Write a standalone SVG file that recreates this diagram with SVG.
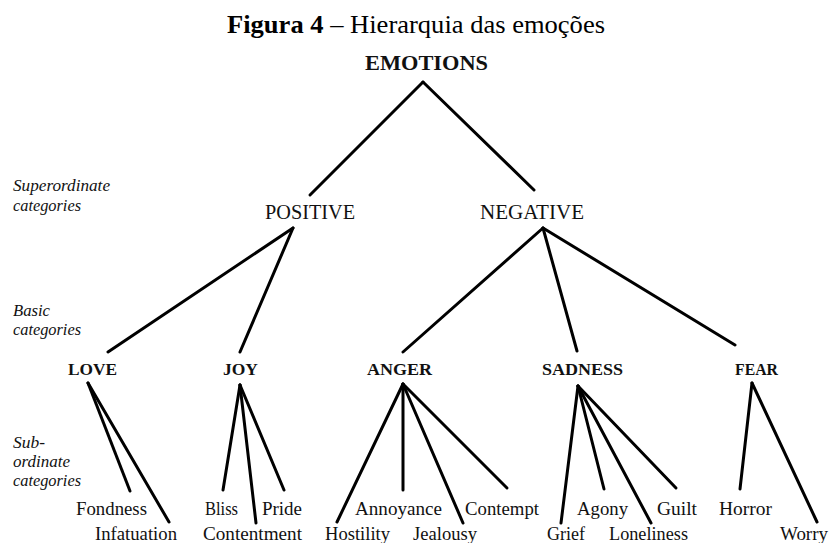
<svg xmlns="http://www.w3.org/2000/svg" width="832" height="543" viewBox="0 0 832 543">
<style>
  .bg { fill: #ffffff; }
  .title { font-family: "Liberation Serif", "Times New Roman", serif; font-size: 26px; fill: #000; }
  .title .b { font-weight: bold; }
  .top { font-family: "Liberation Serif", serif; font-size: 22px; font-weight: bold; fill: #111; }
  .sup { font-family: "Liberation Serif", serif; font-size: 20px; fill: #111; }
  .basic { font-family: "Liberation Serif", serif; font-size: 16px; font-weight: bold; fill: #111; }
  .sub { font-family: "Liberation Serif", serif; font-size: 18px; fill: #111; }
  .lvl { font-family: "Liberation Serif", serif; font-size: 16px; font-style: italic; fill: #111; }
  .edge { stroke: #000; stroke-width: 3; stroke-linecap: round; fill: none; }
</style>
<rect class="bg" x="0" y="0" width="832" height="543"/>

<text id="title" class="title" x="227" y="33" textLength="378" lengthAdjust="spacingAndGlyphs"><tspan class="b">Figura 4</tspan> – Hierarquia das emoções</text>

<g id="levels">
  <text class="lvl" x="13" y="191" textLength="97" lengthAdjust="spacingAndGlyphs">Superordinate</text>
  <text class="lvl" x="13" y="211" textLength="68" lengthAdjust="spacingAndGlyphs">categories</text>
  <text class="lvl" x="13" y="316" textLength="37" lengthAdjust="spacingAndGlyphs">Basic</text>
  <text class="lvl" x="13" y="335" textLength="68" lengthAdjust="spacingAndGlyphs">categories</text>
  <text class="lvl" x="13" y="448" textLength="32" lengthAdjust="spacingAndGlyphs">Sub-</text>
  <text class="lvl" x="13" y="467" textLength="57" lengthAdjust="spacingAndGlyphs">ordinate</text>
  <text class="lvl" x="13" y="486" textLength="68" lengthAdjust="spacingAndGlyphs">categories</text>
</g>

<g id="connectors">
  <line class="edge" x1="423" y1="82" x2="310" y2="195"/>
  <line class="edge" x1="423" y1="82" x2="534" y2="190"/>
  <line class="edge" x1="293" y1="228" x2="108" y2="352"/>
  <line class="edge" x1="293" y1="228" x2="240" y2="352"/>
  <line class="edge" x1="543" y1="228" x2="403" y2="352"/>
  <line class="edge" x1="543" y1="228" x2="577" y2="351"/>
  <line class="edge" x1="543" y1="228" x2="735" y2="345"/>
  <line class="edge" x1="88" y1="383" x2="130" y2="491"/>
  <line class="edge" x1="88" y1="383" x2="169" y2="522"/>
  <line class="edge" x1="240" y1="385" x2="223" y2="490"/>
  <line class="edge" x1="240" y1="385" x2="256" y2="523"/>
  <line class="edge" x1="240" y1="385" x2="284" y2="490"/>
  <line class="edge" x1="403" y1="384" x2="337" y2="522"/>
  <line class="edge" x1="403" y1="384" x2="403" y2="490"/>
  <line class="edge" x1="403" y1="384" x2="463" y2="523"/>
  <line class="edge" x1="403" y1="384" x2="507" y2="488"/>
  <line class="edge" x1="578" y1="386" x2="561" y2="523"/>
  <line class="edge" x1="578" y1="386" x2="604" y2="489"/>
  <line class="edge" x1="578" y1="386" x2="651" y2="523"/>
  <line class="edge" x1="578" y1="386" x2="676" y2="488"/>
  <line class="edge" x1="752" y1="383" x2="740" y2="489"/>
  <line class="edge" x1="752" y1="383" x2="817" y2="522"/>
</g>

<g id="emotions"><text class="top" x="365" y="70" textLength="123" lengthAdjust="spacingAndGlyphs">EMOTIONS</text></g>
<g id="positive"><text class="sup" x="265" y="219" textLength="90" lengthAdjust="spacingAndGlyphs">POSITIVE</text></g>
<g id="negative"><text class="sup" x="480" y="219" textLength="104" lengthAdjust="spacingAndGlyphs">NEGATIVE</text></g>

<g id="love"><text class="basic" x="68" y="375" textLength="49" lengthAdjust="spacingAndGlyphs">LOVE</text></g>
<g id="joy"><text class="basic" x="223" y="375" textLength="35" lengthAdjust="spacingAndGlyphs">JOY</text></g>
<g id="anger"><text class="basic" x="367" y="375" textLength="65" lengthAdjust="spacingAndGlyphs">ANGER</text></g>
<g id="sadness"><text class="basic" x="542" y="375" textLength="81" lengthAdjust="spacingAndGlyphs">SADNESS</text></g>
<g id="fear"><text class="basic" x="735" y="375" textLength="43" lengthAdjust="spacingAndGlyphs">FEAR</text></g>

<g id="fondness"><text class="sub" x="76" y="515" textLength="71" lengthAdjust="spacingAndGlyphs">Fondness</text></g>
<g id="infatuation"><text class="sub" x="95" y="540" textLength="82" lengthAdjust="spacingAndGlyphs">Infatuation</text></g>
<g id="bliss"><text class="sub" x="205" y="515" textLength="33" lengthAdjust="spacingAndGlyphs">Bliss</text></g>
<g id="contentment"><text class="sub" x="203" y="540" textLength="99" lengthAdjust="spacingAndGlyphs">Contentment</text></g>
<g id="pride"><text class="sub" x="262" y="515" textLength="40" lengthAdjust="spacingAndGlyphs">Pride</text></g>
<g id="hostility"><text class="sub" x="325" y="540" textLength="65" lengthAdjust="spacingAndGlyphs">Hostility</text></g>
<g id="annoyance"><text class="sub" x="355" y="515" textLength="87" lengthAdjust="spacingAndGlyphs">Annoyance</text></g>
<g id="jealousy"><text class="sub" x="413" y="540" textLength="64" lengthAdjust="spacingAndGlyphs">Jealousy</text></g>
<g id="contempt"><text class="sub" x="465" y="515" textLength="74" lengthAdjust="spacingAndGlyphs">Contempt</text></g>
<g id="grief"><text class="sub" x="547" y="540" textLength="38" lengthAdjust="spacingAndGlyphs">Grief</text></g>
<g id="agony"><text class="sub" x="577" y="515" textLength="51" lengthAdjust="spacingAndGlyphs">Agony</text></g>
<g id="loneliness"><text class="sub" x="609" y="540" textLength="79" lengthAdjust="spacingAndGlyphs">Loneliness</text></g>
<g id="guilt"><text class="sub" x="657" y="515" textLength="40" lengthAdjust="spacingAndGlyphs">Guilt</text></g>
<g id="horror"><text class="sub" x="719" y="515" textLength="53" lengthAdjust="spacingAndGlyphs">Horror</text></g>
<g id="worry"><text class="sub" x="780" y="540" textLength="48" lengthAdjust="spacingAndGlyphs">Worry</text></g>
</svg>
